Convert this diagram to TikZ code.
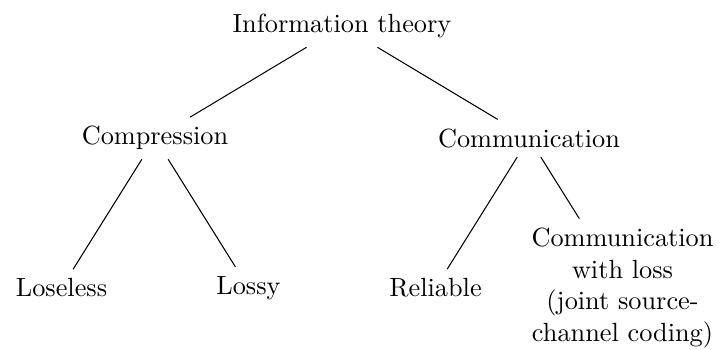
\documentclass[tikz,border=0pt]{standalone}
\usepackage{tikz}

\begin{document}
\begin{tikzpicture}
    % Define the spacings of the tree
    \def\h{2.5}  % offset of the two main branches
    \def\w{1.25} % offset of the leaves from their branch
    \def\a{1.5}  % depth of the branches
    \def\b{3.5}  % depth of the leaves

    % Fix the margins
    \useasboundingbox (-4.572,0.348) rectangle (5.053,-4.318);

    % Draw root and branches
    \node (info) at (0,0) {Information theory};
    \node (comp) at (-\h,-\a) {Compression};
    \node (comm) at (\h,-\a) {Communication};

    % Draw leaves
    \node (loseless) at ({-\h-\w},-\b) {Loseless};
    \node (lossy) at ({-\h+\w},-\b) {Lossy};
    \node (reliable) at ({\h-\w},-\b) {Reliable};
    \node[align=center] (withloss) at ({\h+\w},-\b) {Communication\\with loss\\(joint source-\\channel coding)};

    % Draw edges
    \draw (info) -- (comp);
    \draw (info) -- (comm);
    \draw (comp) -- (loseless);
    \draw (comp) -- (lossy);
    \draw (comm) -- (reliable);
    \draw (comm) -- (withloss);
\end{tikzpicture}
\end{document}
